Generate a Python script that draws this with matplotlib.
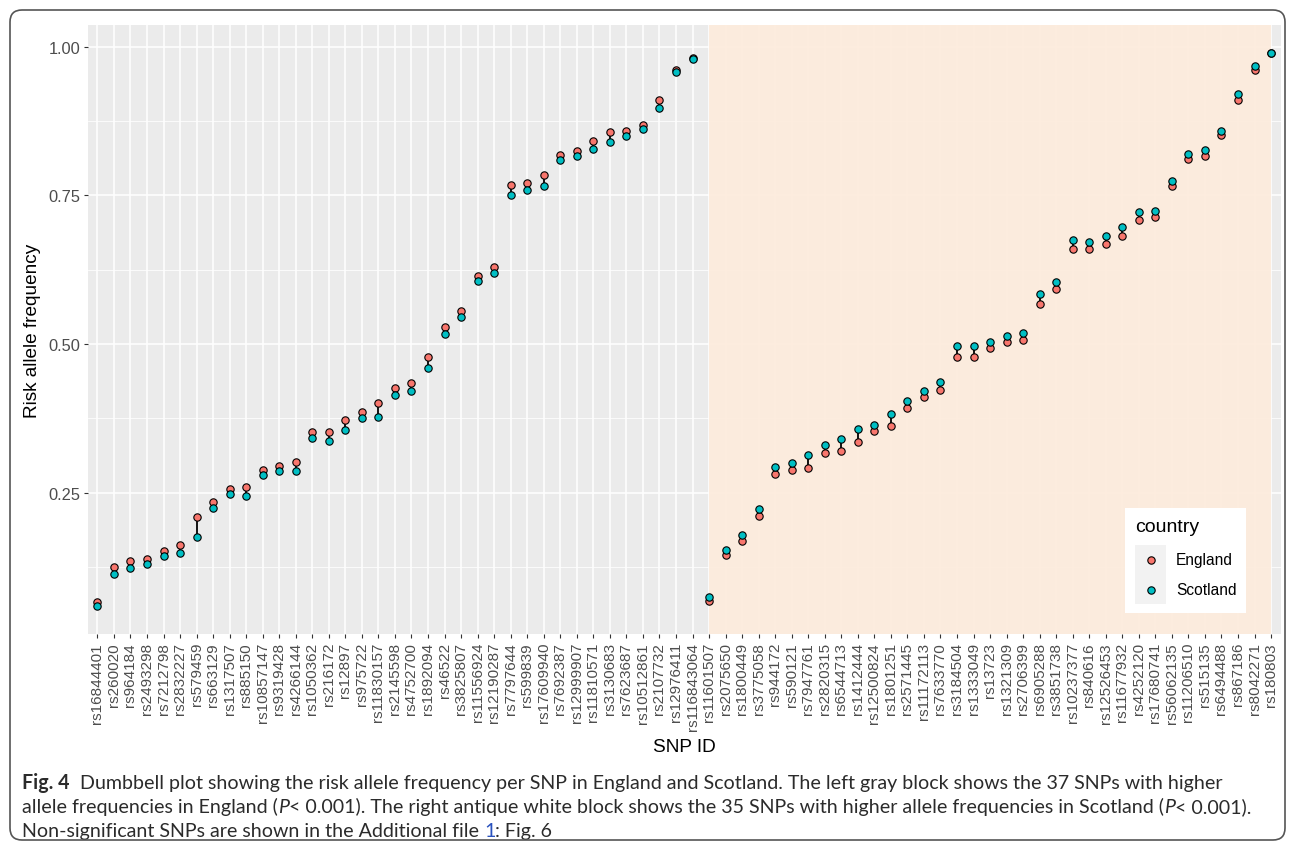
import matplotlib
matplotlib.use("Agg")
import matplotlib.pyplot as plt
from matplotlib.patches import FancyBboxPatch, Rectangle
from matplotlib.lines import Line2D
from matplotlib.transforms import IdentityTransform
import numpy as np

# ---------------- data ----------------
snps_england_higher = [
    "rs16844401", "rs260020", "rs964184", "rs2493298", "rs7212798", "rs2832227",
    "rs579459", "rs663129", "rs1317507", "rs885150", "rs10857147", "rs9319428",
    "rs4266144", "rs1050362", "rs216172", "rs12897", "rs975722", "rs11830157",
    "rs2145598", "rs4752700", "rs1892094", "rs46522", "rs3825807", "rs11556924",
    "rs12190287", "rs7797644", "rs599839", "rs17609940", "rs7692387", "rs12999907",
    "rs11810571", "rs3130683", "rs7623687", "rs10512861", "rs2107732", "rs12976411",
    "rs116843064",
]
snps_scotland_higher = [
    "rs11601507", "rs2075650", "rs1800449", "rs3775058", "rs944172", "rs590121",
    "rs7947761", "rs2820315", "rs6544713", "rs1412444", "rs12500824", "rs1801251",
    "rs2571445", "rs11172113", "rs7633770", "rs3184504", "rs1333049", "rs13723",
    "rs1321309", "rs2706399", "rs6905288", "rs3851738", "rs10237377", "rs840616",
    "rs12526453", "rs11677932", "rs4252120", "rs17680741", "rs56062135", "rs11206510",
    "rs515135", "rs6494488", "rs867186", "rs8042271", "rs180803",
]
england_left = [0.066, 0.125, 0.135, 0.139, 0.152, 0.162, 0.210, 0.235, 0.256, 0.260,
                0.288, 0.295, 0.301, 0.352, 0.352, 0.373, 0.386, 0.401, 0.426, 0.435,
                0.478, 0.529, 0.555, 0.615, 0.629, 0.767, 0.771, 0.784, 0.818, 0.825,
                0.842, 0.856, 0.859, 0.868, 0.910, 0.961, 0.981]
scotland_left = [0.059, 0.114, 0.123, 0.130, 0.143, 0.148, 0.176, 0.225, 0.248, 0.245,
                 0.279, 0.287, 0.286, 0.342, 0.337, 0.356, 0.376, 0.377, 0.415, 0.421,
                 0.460, 0.517, 0.545, 0.606, 0.620, 0.750, 0.759, 0.765, 0.810, 0.817,
                 0.828, 0.839, 0.850, 0.861, 0.897, 0.957, 0.979]
england_right = [0.068, 0.146, 0.169, 0.211, 0.281, 0.289, 0.292, 0.316, 0.320, 0.336,
                 0.353, 0.362, 0.393, 0.411, 0.423, 0.478, 0.479, 0.494, 0.503, 0.507,
                 0.568, 0.593, 0.660, 0.660, 0.668, 0.681, 0.709, 0.714, 0.765, 0.811,
                 0.817, 0.851, 0.911, 0.961, 0.989]
scotland_right = [0.075, 0.153, 0.179, 0.222, 0.293, 0.300, 0.314, 0.330, 0.340, 0.357,
                  0.364, 0.383, 0.404, 0.421, 0.437, 0.496, 0.496, 0.503, 0.513, 0.519,
                  0.584, 0.605, 0.675, 0.671, 0.681, 0.697, 0.722, 0.723, 0.775, 0.819,
                  0.827, 0.858, 0.920, 0.967, 0.990]
y_ticks = [0.25, 0.50, 0.75, 1.00]
y_tick_labels = ["0.25", "0.50", "0.75", "1.00"]
countries = ["England", "Scotland"]

# ---------------- style ----------------
W, H = 1295, 845
FONT = ["Liberation Sans", "DejaVu Sans"]
CAP_FONT = ["Lato", "DejaVu Sans"]
plt.rcParams["font.family"] = FONT
col_eng = "#F8766D"
col_sco = "#00BFC4"
txt_gray = "#4D4D4D"

snps = snps_england_higher + snps_scotland_higher
eng = np.array(england_left + england_right)
sco = np.array(scotland_left + scotland_right)
x = np.arange(len(snps))
n_left = len(snps_england_higher)

fig = plt.figure(figsize=(W / 100, H / 100), dpi=100)
fig.patch.set_facecolor("white")

def fx(px):
    return px / W

def fy(py):
    return 1 - py / H

ax_l, ax_r, ax_t, ax_b = 87.5, 1281, 26, 635
ax = fig.add_axes([fx(ax_l), fy(ax_b), fx(ax_r - ax_l), (ax_b - ax_t) / H])
ax.set_facecolor("#EBEBEB")
for s in ax.spines.values():
    s.set_visible(False)

allv = np.concatenate([eng, sco])
r = allv.max() - allv.min()
ax.set_ylim(allv.min() - 0.05 * r, allv.max() + 0.05 * r)
ax.set_xlim(-0.6, len(snps) - 1 + 0.6)

ax.set_axisbelow(True)
ax.set_yticks(y_ticks)
ax.set_yticklabels(y_tick_labels)
ax.set_yticks([0.125, 0.375, 0.625, 0.875], minor=True)
ax.set_xticks(x)
ax.set_xticklabels(snps, rotation=90, ha="center", va="top")
ax.grid(True, which="major", color="white", linewidth=1.1)
ax.grid(True, which="minor", axis="y", color="white", linewidth=0.55)
ax.tick_params(axis="both", which="major", length=3.2, width=0.8, color="#333333",
               labelsize=11, labelcolor=txt_gray)
ax.tick_params(axis="y", labelsize=11.8)
ax.tick_params(axis="x", pad=2.5)
ax.tick_params(axis="y", pad=2)
ax.tick_params(axis="y", which="minor", length=0)

# antique white block for the Scotland-higher SNPs
ax.axvspan(n_left, len(snps) - 1, color="#FDEBDC", alpha=0.92, lw=0, zorder=1)

# dumbbells
ax.vlines(x, np.minimum(eng, sco), np.maximum(eng, sco), color="black", lw=1.3, zorder=2)
ax.plot(x, eng, "o", ms=5.3, mfc=col_eng, mec="black", mew=0.8, zorder=3)
ax.plot(x, sco, "o", ms=5.3, mfc=col_sco, mec="black", mew=0.8, zorder=4)

# axis titles
fig.text(fx(33), fy((ax_t + ax_b) / 2), "Risk allele frequency", rotation=90,
         ha="center", va="center", fontsize=13.7, color="black")
fig.text(fx((ax_l + ax_r) / 2), fy(748), "SNP ID", ha="center", va="center",
         fontsize=13.7, color="black")

# legend (inside panel, bottom right)
tr = IdentityTransform()
def rect_px(x0, y0, x1, y1, **kw):
    fig.patches.append(Rectangle((x0, H - y1), x1 - x0, y1 - y0, transform=tr, **kw))

rect_px(1125, 509, 1246, 614, facecolor="white", edgecolor="none", zorder=5)
rect_px(1135, 546, 1166, 605, facecolor="#F2F2F2", edgecolor="none", zorder=6)
fig.text(fx(1135), fy(527), "country", ha="left", va="center", fontsize=14, color="black", zorder=7)
for i, (c, col) in enumerate(zip(countries, [col_eng, col_sco])):
    yy = 561 + i * 29.5
    fig.lines.append(Line2D([1150.5], [H - yy], transform=tr, marker="o", ms=5.3,
                            mfc=col, mec="black", mew=0.8, ls="none", zorder=7))
    fig.text(fx(1176), fy(yy), c, ha="left", va="center", fontsize=11.2, color="black", zorder=7)

# outer rounded frame
fig.patches.append(FancyBboxPatch((10, H - 841), 1275, 830, transform=tr,
                                  boxstyle="round,pad=0,rounding_size=12",
                                  facecolor="none", edgecolor="#555555", lw=1.2, zorder=10))

# caption
renderer = fig.canvas.get_renderer()
cap_col = "#2B2B2B"

caption_lines = [
    (22, 789, 1185, [
        ("Fig. 4", {"weight": "bold"}, 2),
        ("Dumbbell plot showing the risk allele frequency per SNP in England and Scotland. "
         "The left gray block shows the 37 SNPs with higher", {}, 0),
    ]),
    (22, 813, 1282, [
        ("allele frequencies in England (", {}, 0),
        ("P", {"style": "italic"}, 0),
        ("< 0.001). The right antique white block shows the 35 SNPs with higher allele "
         "frequencies in Scotland (", {}, 0),
        ("P", {"style": "italic"}, 0),
        ("< 0.001).", {}, 0),
    ]),
    (22, 837, None, [
        ("Non-significant SNPs are shown in the Additional file", {}, 1),
        ("1", {"color": "#2A52BE"}, 0),
        (": Fig. 6", {}, 0),
    ]),
]

def draw_line(x0, ybase, runs, size):
    fsz = size
    t0 = fig.text(0, 0, "x x", fontsize=fsz, family=CAP_FONT)
    t1 = fig.text(0, 0, "xx", fontsize=fsz, family=CAP_FONT)
    sw = t0.get_window_extent(renderer).width - t1.get_window_extent(renderer).width
    t0.remove(); t1.remove()
    xx = x0
    made = []
    for txt, kw, gap in runs:
        kw = dict(kw)
        t = fig.text(fx(xx), fy(ybase), txt, ha="left", va="baseline", fontsize=fsz,
                     family=CAP_FONT, color=kw.pop("color", cap_col), **kw)
        made.append(t)
        xx = t.get_window_extent(renderer).x1 + gap * sw
    return xx, made

# fit caption size to the reference line widths
ratios = []
for x0, yb, x_end, runs in caption_lines:
    if x_end is None:
        continue
    end, made = draw_line(x0, yb, runs, 10)
    for t in made:
        t.remove()
    ratios.append((x_end - x0) / (end - x0))
cap_size = 10 * float(np.mean(ratios))

for x0, yb, x_end, runs in caption_lines:
    draw_line(x0, yb, runs, cap_size)

fig.savefig("out.png", dpi=100, facecolor="white")
